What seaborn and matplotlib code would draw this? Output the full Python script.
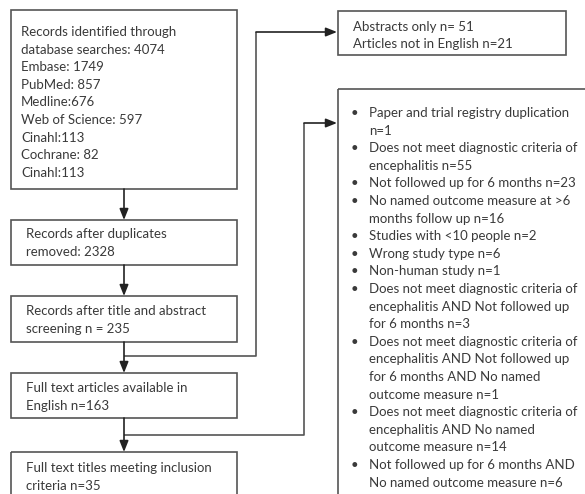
import numpy as np
import pandas as pd
import seaborn as sns
import matplotlib.pyplot as plt
from matplotlib.patches import Rectangle

# box texts of the flow diagram
identified_lines = ["Records identified through", "database searches: 4074", "Embase: 1749",
                    "PubMed: 857", "Medline:676", "Web of Science: 597", "Cinahl:113",
                    "Cochrane: 82", "Cinahl:113"]
dedup_lines = ["Records after duplicates", "removed: 2328"]
screen_lines = ["Records after title and abstract", "screening n = 235"]
fulltext_lines = ["Full text articles available in", "English n=163"]
included_lines = ["Full text titles meeting inclusion", "criteria n=35"]
excluded1_lines = ["Abstracts only n= 51", "Articles not in English n=21"]
excluded2_items = [
    ["Paper and trial registry duplication", "n=1"],
    ["Does not meet diagnostic criteria of", "encephalitis n=55"],
    ["Not followed up for 6 months n=23"],
    ["No named outcome measure at >6", "months follow up n=16"],
    ["Studies with <10 people n=2"],
    ["Wrong study type n=6"],
    ["Non-human study n=1"],
    ["Does not meet diagnostic criteria of", "encephalitis AND Not followed up", "for 6 months n=3"],
    ["Does not meet diagnostic criteria of", "encephalitis AND Not followed up",
     "for 6 months AND No named", "outcome measure n=1"],
    ["Does not meet diagnostic criteria of", "encephalitis AND No named", "outcome measure n=14"],
    ["Not followed up for 6 months AND", "No named outcome measure n=6"],
]

sns.set_theme(style="white")
plt.rcParams["font.family"] = ["Lato", "DejaVu Sans"]

LINE = "#555555"
TXT = "#3a3a3a"
FS = 9.5
STEP = 17.6

fig = plt.figure(figsize=(5.85, 4.94), dpi=100)
ax = fig.add_axes([0, 0, 1, 1])
ax.set_xlim(0, 585)
ax.set_ylim(494, 0)
ax.axis("off")


def box(x0, y0, x1, y1):
    ax.add_patch(Rectangle((x0, y0), x1 - x0, y1 - y0, fill=False, ec=LINE, lw=1.2))


def lines_text(x, y, lines, step=STEP):
    for i, t in enumerate(lines):
        ax.text(x, y + i * step, t, fontsize=FS, color=TXT, va="center", ha="left")


def arrow(p0, p1):
    ax.annotate("", xy=p1, xytext=p0,
                arrowprops=dict(arrowstyle="-|>,head_length=0.55,head_width=0.22",
                                color="#222222", lw=1.2, shrinkA=0, shrinkB=0))


def path(xs, ys):
    ax.plot(xs, ys, color=LINE, lw=1.2, solid_capstyle="butt")


# left column
box(11, 10, 237, 189)
lines_text(21, 32, identified_lines)
box(11, 220, 237, 265)
lines_text(26, 234, dedup_lines)
box(11, 296, 237, 342)
lines_text(26, 311, screen_lines)
box(11, 373, 237, 418)
lines_text(26, 388, fulltext_lines)
box(11, 452, 237, 520)
lines_text(26, 468, included_lines)

arrow((124, 189), (124, 220))
arrow((124, 265), (124, 296))
arrow((124, 342), (124, 373))
arrow((124, 418), (124, 452))

# right column
box(338, 11, 566, 55)
lines_text(353, 27, excluded1_lines, step=16.5)
box(338, 89, 600, 520)
y = 113
for item in excluded2_items:
    ax.text(354, y, "\u2022", fontsize=FS, color=TXT, va="center", ha="center")
    lines_text(369, y, item)
    y += STEP * len(item)

# side branches
path([124, 256, 256], [356, 356, 32])
arrow((256, 32), (337, 32))
path([124, 304, 304], [435, 435, 123])
arrow((304, 123), (337, 123))

fig.savefig("out.png", dpi=100, facecolor="white")
